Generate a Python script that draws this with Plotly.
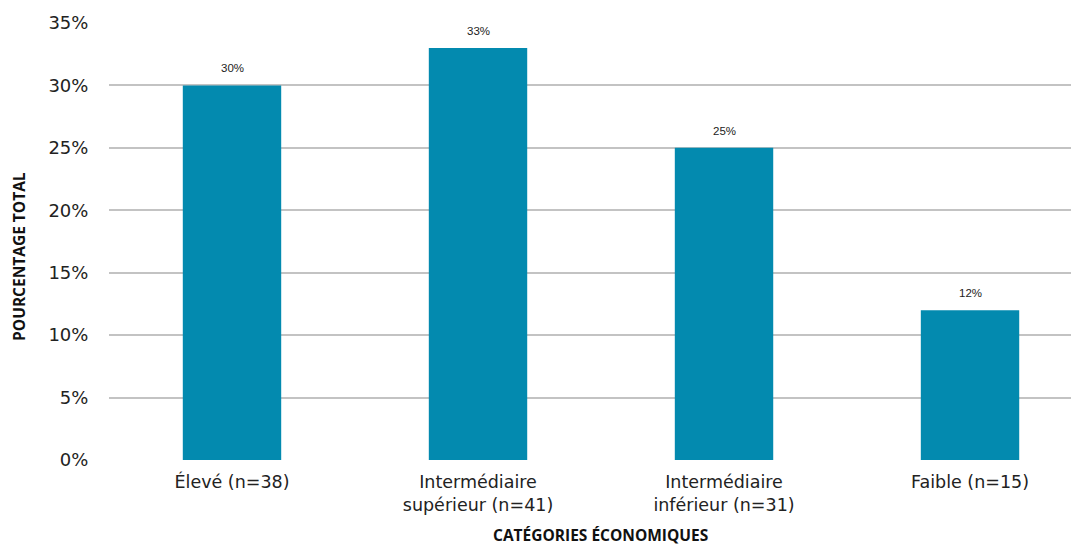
import plotly.graph_objects as go

categories = ["Élevé (n=38)", "Intermédiaire<br>supérieur (n=41)", "Intermédiaire<br>inférieur (n=31)", "Faible (n=15)"]
values = [30, 33, 25, 12]
labels = ["30%", "33%", "25%", "12%"]
tick_vals = [0, 5, 10, 15, 20, 25, 30, 35]
tick_text = ["0%", "5%", "10%", "15%", "20%", "25%", "30%", "35%"]
x_title = "CATÉGORIES ÉCONOMIQUES"
y_title = "POURCENTAGE TOTAL"

TICKFONT = "DejaVu Sans"
TITLEFONT = "Open Sans"

fig = go.Figure(go.Bar(
    x=categories, y=values,
    marker=dict(color="#038aaf", line=dict(width=0)),
    width=0.4,
))

for c, v, t in zip(categories, values, labels):
    fig.add_annotation(x=c, y=v, text=t, showarrow=False, yanchor="bottom",
                       yshift=9, font=dict(size=11.5, color="#222222", family="Liberation Sans"))

fig.add_annotation(xref="paper", yref="paper", x=0.507, y=-0.171, xanchor="center", yanchor="middle",
                   text=f"<b>{x_title}</b>", showarrow=False,
                   font=dict(size=15.5, color="#111111", family=TITLEFONT))
fig.add_annotation(xref="paper", yref="paper", x=-0.0928, y=0.467, xanchor="center", yanchor="middle",
                   text=f"<b>{y_title}</b>", showarrow=False, textangle=-90,
                   font=dict(size=15.5, color="#111111", family=TITLEFONT))

fig.update_layout(
    width=1071, height=538,
    margin=dict(l=101, r=0, t=15, b=86),
    paper_bgcolor="white", plot_bgcolor="white",
    font=dict(family=TICKFONT, color="#222222"),
    showlegend=False,
    xaxis=dict(
        range=[-0.5, 3.443], showgrid=False, zeroline=False, showline=False,
        tickfont=dict(size=17.5, color="#222222", family=TICKFONT),
        ticks="outside", ticklen=6, tickcolor="rgba(0,0,0,0)",
    ),
    yaxis=dict(
        range=[0, 35], tickvals=tick_vals, ticktext=tick_text,
        showgrid=True, gridcolor="#c3c3c3", gridwidth=2, zeroline=False,
        tickfont=dict(size=18, color="#222222", family=TICKFONT),
        ticks="outside", ticklen=16, tickcolor="rgba(0,0,0,0)",
    ),
)

fig.write_html("out.html")
